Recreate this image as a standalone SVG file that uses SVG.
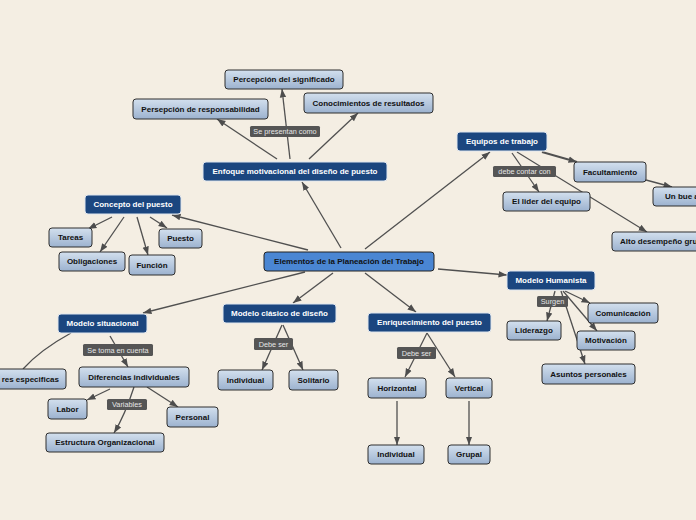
<svg xmlns="http://www.w3.org/2000/svg" width="696" height="520" viewBox="0 0 696 520">
<defs>
<linearGradient id="lg" x1="0" y1="0" x2="0" y2="1">
<stop offset="0" stop-color="#d3e0ee"/>
<stop offset="1" stop-color="#9cb2cf"/>
</linearGradient>
<marker id="ah" markerUnits="userSpaceOnUse" markerWidth="9" markerHeight="8" viewBox="0 0 9 8" refX="8.5" refY="4" orient="auto">
<path d="M0,0.8 L8.5,4 L0,7.2 Z" fill="#4d4d4d"/>
</marker>
</defs>
<style>
.bg{fill:#f4eee3}
.d rect{fill:#1b467f;stroke:#dfe6ef;stroke-width:1}
.d text{fill:#ffffff}
.r rect{fill:#4a86d3;stroke:#222;stroke-width:1}
.r text{fill:#111}
.l rect{fill:url(#lg);stroke:#2e2e2e;stroke-width:1}
.l text{fill:#111}
text{font-family:"Liberation Sans",Arial,sans-serif;font-size:8px;font-weight:bold;text-anchor:middle;dominant-baseline:central}
.lb rect{fill:#555;stroke:none}
.lb text{fill:#e6e6e6;font-weight:normal;font-size:7.3px}
#connectors path{fill:none;stroke:#505050;stroke-width:1.3}
#connectors path.a{marker-end:url(#ah)}
</style>
<rect class="bg" x="0" y="0" width="696" height="520"/>
<g id="connectors">
<path class="a" d="M341,248 L302,182"/>
<path class="a" d="M365,249 L490,152"/>
<path class="a" d="M308,250 L172,215"/>
<path class="a" d="M305,272 L143,313"/>
<path class="a" d="M333,273 L293,303"/>
<path class="a" d="M365,273 L416,312"/>
<path class="a" d="M438,269 L507,275"/>
<path class="a" d="M277,159 L217,119"/>
<path class="a" d="M290,159 L282,89"/>
<path class="a" d="M309,159 L358,113"/>
<path class="a" d="M542,152 L577,162" style="stroke-width:2"/>
<path class="a" d="M512,153 L539,192"/>
<path class="a" d="M517,152 L647,232"/>
<path class="a" d="M646,180 L672,187"/>
<path class="a" d="M112,217 L88,229"/>
<path class="a" d="M124,217 L100,252"/>
<path class="a" d="M137,217 L148,255"/>
<path class="a" d="M150,217 L167,228"/>
<path d="M71,333 Q40,350 23,369"/>
<path class="a" d="M110,336 L128,367"/>
<path class="a" d="M110,389 L87,400"/>
<path class="a" d="M147,387 L178,407"/>
<path class="a" d="M134,387 Q125,415 114,433"/>
<path class="a" d="M282,325 L262,370"/>
<path class="a" d="M283,325 L303,370"/>
<path class="a" d="M427,333 L405,377"/>
<path class="a" d="M427,333 L455,377"/>
<path class="a" d="M397,401 L397,445"/>
<path class="a" d="M469,401 L469,445"/>
<path class="a" d="M555,291 L547,321"/>
<path class="a" d="M561,291 L585,364"/>
<path class="a" d="M563,291 L597,331"/>
<path class="a" d="M565,291 L590,303"/>
</g>
<g id="lb1" class="lb"><rect x="250" y="126" width="70" height="11" rx="1.5"/><text x="285" y="131.5">Se presentan como</text></g>
<g id="lb2" class="lb"><rect x="493" y="166" width="63" height="11" rx="1.5"/><text x="524.5" y="171.5">debe contar con</text></g>
<g id="lb3" class="lb"><rect x="254" y="338" width="39" height="12" rx="1.5"/><text x="273.5" y="344">Debe ser</text></g>
<g id="lb4" class="lb"><rect x="397" y="347" width="39" height="12" rx="1.5"/><text x="416.5" y="353">Debe ser</text></g>
<g id="lb5" class="lb"><rect x="83" y="344" width="70" height="12" rx="1.5"/><text x="118" y="350">Se toma en cuenta</text></g>
<g id="lb6" class="lb"><rect x="107" y="399" width="40" height="11" rx="1.5"/><text x="127" y="404.5">Variables</text></g>
<g id="lb7" class="lb"><rect x="537" y="296" width="31" height="11" rx="1.5"/><text x="552.5" y="301.5">Surgen</text></g>

<g id="n-root" class="r"><rect x="264" y="252" width="170" height="19" rx="3"/><text x="349" y="261.5">Elementos de la Planeación del Trabajo</text></g>
<g id="n-enfoque" class="d"><rect x="203" y="162" width="184" height="19" rx="3"/><text x="295" y="171.5">Enfoque motivacional del diseño de puesto</text></g>
<g id="n-equipos" class="d"><rect x="457" y="132" width="90" height="19" rx="3"/><text x="502" y="141.5">Equipos de trabajo</text></g>
<g id="n-concepto" class="d"><rect x="85" y="195" width="96" height="19" rx="3"/><text x="133" y="204.5">Concepto del puesto</text></g>
<g id="n-situacional" class="d"><rect x="58" y="314" width="89" height="19" rx="3"/><text x="102.5" y="323.5">Modelo situacional</text></g>
<g id="n-clasico" class="d"><rect x="223" y="304" width="113" height="19" rx="3"/><text x="279.5" y="313.5">Modelo clásico de diseño</text></g>
<g id="n-enriq" class="d"><rect x="368" y="313" width="123" height="19" rx="3"/><text x="429.5" y="322.5">Enriquecimiento del puesto</text></g>
<g id="n-humanista" class="d"><rect x="507" y="271" width="88" height="19" rx="3"/><text x="551" y="280.5">Modelo Humanista</text></g>

<g id="n-percepcion" class="l"><rect x="225" y="70" width="118" height="19" rx="3"/><text x="284" y="79.5">Percepción del significado</text></g>
<g id="n-persepcion" class="l"><rect x="133" y="99" width="135" height="20" rx="3"/><text x="200.5" y="109">Persepción de responsabilidad</text></g>
<g id="n-conoc" class="l"><rect x="304" y="93" width="129" height="20" rx="3"/><text x="368.5" y="103">Conocimientos de resultados</text></g>
<g id="n-facult" class="l"><rect x="574" y="162" width="72" height="20" rx="3"/><text x="610" y="172">Facultamiento</text></g>
<g id="n-unbue" class="l"><rect x="653" y="187" width="70" height="19" rx="3"/><text x="665" y="196.5" style="text-anchor:start">Un bue a</text></g>
<g id="n-lider" class="l"><rect x="503" y="192" width="87" height="19" rx="3"/><text x="546.5" y="201.5">El lider del equipo</text></g>
<g id="n-alto" class="l"><rect x="612" y="232" width="100" height="19" rx="3"/><text x="620" y="241.5" style="text-anchor:start">Alto desempeño gru</text></g>
<g id="n-tareas" class="l"><rect x="49" y="228" width="43" height="19" rx="3"/><text x="70.5" y="237.5">Tareas</text></g>
<g id="n-oblig" class="l"><rect x="59" y="252" width="66" height="19" rx="3"/><text x="92" y="261.5">Obligaciones</text></g>
<g id="n-funcion" class="l"><rect x="129" y="255" width="46" height="20" rx="3"/><text x="152" y="265">Función</text></g>
<g id="n-puesto" class="l"><rect x="159" y="229" width="43" height="19" rx="3"/><text x="180.5" y="238.5">Puesto</text></g>
<g id="n-especificas" class="l"><rect x="-40" y="369" width="106" height="20" rx="3"/><text x="59" y="379" style="text-anchor:end">res especificas</text></g>
<g id="n-diferencias" class="l"><rect x="79" y="367" width="110" height="20" rx="3"/><text x="134" y="377">Diferencias individuales</text></g>
<g id="n-labor" class="l"><rect x="48" y="399" width="39" height="20" rx="3"/><text x="67.5" y="409">Labor</text></g>
<g id="n-personal" class="l"><rect x="167" y="407" width="51" height="20" rx="3"/><text x="192.5" y="417">Personal</text></g>
<g id="n-estructura" class="l"><rect x="46" y="433" width="118" height="19" rx="3"/><text x="105" y="442.5">Estructura Organizacional</text></g>
<g id="n-individual1" class="l"><rect x="218" y="370" width="55" height="20" rx="3"/><text x="245.5" y="380">Individual</text></g>
<g id="n-solitario" class="l"><rect x="289" y="370" width="49" height="20" rx="3"/><text x="313.5" y="380">Solitario</text></g>
<g id="n-horizontal" class="l"><rect x="368" y="378" width="58" height="20" rx="3"/><text x="397" y="388">Horizontal</text></g>
<g id="n-vertical" class="l"><rect x="446" y="378" width="46" height="20" rx="3"/><text x="469" y="388">Vertical</text></g>
<g id="n-individual2" class="l"><rect x="368" y="445" width="56" height="19" rx="3"/><text x="396" y="454.5">Individual</text></g>
<g id="n-grupal" class="l"><rect x="448" y="445" width="42" height="19" rx="3"/><text x="469" y="454.5">Grupal</text></g>
<g id="n-comunicacion" class="l"><rect x="588" y="303" width="70" height="20" rx="3"/><text x="623" y="313">Comunicación</text></g>
<g id="n-liderazgo" class="l"><rect x="507" y="321" width="54" height="19" rx="3"/><text x="534" y="330.5">Liderazgo</text></g>
<g id="n-motivacion" class="l"><rect x="577" y="331" width="58" height="19" rx="3"/><text x="606" y="340.5">Motivación</text></g>
<g id="n-asuntos" class="l"><rect x="542" y="364" width="93" height="20" rx="3"/><text x="588.5" y="374">Asuntos personales</text></g>
</svg>
